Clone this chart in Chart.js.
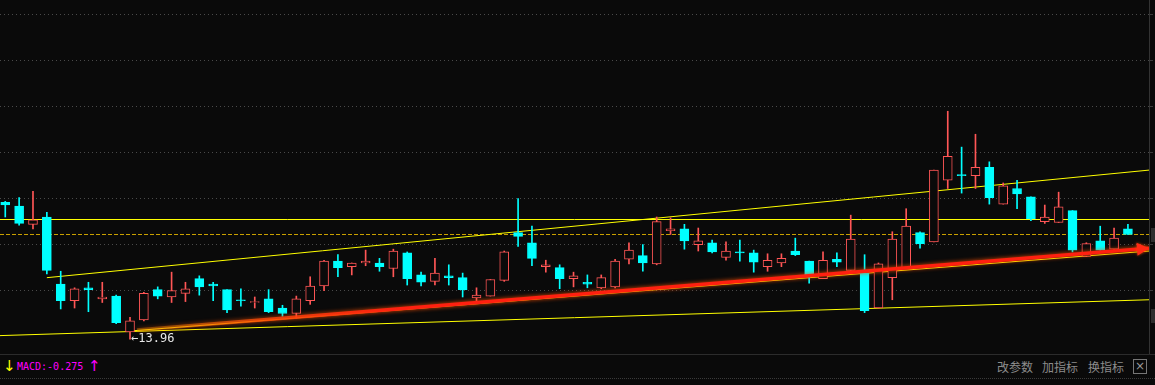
<!DOCTYPE html>
<html>
<head>
<meta charset="utf-8">
<script src="https://cdn.jsdelivr.net/npm/chart.js@4.4.1/dist/chart.umd.min.js"></script>
<style>
  body { margin:0; background:#0a0a0a; width:1155px; height:385px; overflow:hidden; position:relative; }
  #kline { position:absolute; left:0; top:0; }
  #bar { position:absolute; left:0; top:354px; width:1155px; height:30px; border-top:1px solid #2c2c2c; }
  #bar span { position:absolute; top:4px; line-height:16px; white-space:nowrap; }
  .mono { font:10px "DejaVu Sans Mono", monospace; }
  .arr { font:15px "DejaVu Sans", sans-serif; top:3px !important; }
  .cn { font:12px "Noto Sans CJK SC", sans-serif; color:#8c8c8c; }
  #closeBox { position:absolute; left:1133px; top:4px; width:12px; height:13px; border:1px solid #777; color:#999;
              font:12px "DejaVu Sans", sans-serif; line-height:13px; text-align:center; }
  #dots { position:absolute; left:0; top:23px; width:1155px; border-top:1px dotted #3a3a3a; }
  .scroll { position:absolute; left:1151px; width:4px; height:14px; background:#2e2e2e; }
</style>
</head>
<body>
<canvas id="kline" width="1155" height="354"></canvas>
<div class="scroll" style="top:228px"></div>
<div class="scroll" style="top:309px"></div>
<div id="bar">
  <span class="arr" style="left:3px;color:#ffff00">↓</span>
  <span class="mono" style="left:17px;color:#ff00ff">MACD:-0.275</span>
  <span class="arr" style="left:88px;color:#ff00ff">↑</span>
  <span class="cn" style="left:997px">改参数</span>
  <span class="cn" style="left:1042px">加指标</span>
  <span class="cn" style="left:1088px">换指标</span>
  <div id="closeBox">×</div>
  <div id="dots"></div>
</div>
<script>
// daily candles
const open  = [15.45,15.41,15.21,15.29,14.56,14.38,14.52,14.40,14.43,14.04,14.17,14.50,14.42,14.46,14.62,14.56,14.50,14.39,14.36,14.40,
               14.30,14.24,14.38,14.54,14.81,14.75,14.79,14.79,14.73,14.90,14.66,14.59,14.65,14.63,14.41,14.43,14.60,15.12,15.01,14.75,
               14.74,14.62,14.58,14.52,14.53,14.83,14.87,14.78,15.14,15.16,14.99,15.01,14.85,14.91,14.90,14.75,14.79,14.92,14.81,14.62,
               14.83,14.71,14.68,14.30,14.63,14.74,15.12,15.02,15.69,15.75,15.74,15.83,15.43,15.60,15.51,15.24,15.23,15.36,14.86,15.03,
               14.94,15.16];
const high  = [15.46,15.50,15.57,15.34,14.70,14.52,14.58,14.58,14.44,14.20,14.47,14.53,14.69,14.58,14.65,14.58,14.50,14.51,14.42,14.50,
               14.33,14.43,14.64,14.82,14.88,14.79,14.93,14.84,14.94,14.91,14.69,14.84,14.77,14.68,14.52,14.61,14.92,15.49,15.19,14.82,
               14.77,14.69,14.66,14.66,14.83,15.01,14.99,15.29,15.28,15.21,15.17,15.04,15.02,15.04,14.93,14.89,14.89,15.06,14.81,14.91,
               14.90,15.31,14.88,14.79,15.13,15.38,15.13,15.80,16.44,16.05,16.19,15.89,15.66,15.69,15.51,15.42,15.56,15.36,15.01,15.19,
               15.17,15.21];
const low   = [15.29,15.20,15.16,14.67,14.29,14.30,14.26,14.36,14.13,13.96,14.16,14.40,14.36,14.37,14.44,14.38,14.25,14.32,14.30,14.25,
               14.21,14.19,14.34,14.49,14.64,14.66,14.76,14.70,14.64,14.55,14.54,14.55,14.55,14.42,14.38,14.43,14.59,14.97,14.76,14.69,
               14.51,14.53,14.52,14.51,14.52,14.78,14.70,14.77,15.10,14.94,14.92,14.90,14.82,14.81,14.69,14.70,14.75,14.87,14.57,14.62,
               14.75,14.71,14.25,14.30,14.39,14.74,14.95,15.02,15.60,15.55,15.60,15.43,15.43,15.38,15.25,15.22,15.23,14.91,14.86,14.93,
               14.94,15.10];
const close = [15.42,15.22,15.26,14.71,14.38,14.51,14.50,14.42,14.14,14.16,14.46,14.43,14.49,14.51,14.53,14.54,14.28,14.38,14.37,14.26,
               14.24,14.40,14.54,14.81,14.74,14.79,14.81,14.75,14.92,14.62,14.58,14.68,14.63,14.50,14.44,14.61,14.91,15.08,14.84,14.77,
               14.62,14.65,14.56,14.63,14.81,14.93,14.79,15.24,15.16,15.03,15.03,14.91,14.92,14.90,14.80,14.82,14.84,14.88,14.66,14.82,
               14.80,15.05,14.27,14.78,15.05,15.19,15.00,15.80,15.95,15.74,15.83,15.50,15.63,15.54,15.27,15.29,15.40,14.93,15.00,14.93,
               15.06,15.10];

// price levels for the dotted grid and the two horizontal lines
const gridLevels = [14.5, 15.0, 15.5, 16.0, 16.5, 17.0, 17.5];
const refLevel = 15.27;
const lastClose = close[close.length - 1];

// channel lines (x = candle index, y = price)
const upperX = [3, 82.52],     upperY = [14.63, 15.80];
const middleX = [9, 82.52],    middleY = [14.05, 14.92];
const lowerX = [-0.38, 82.52], lowerY = [14.00, 14.39];
const arrowX = [9.5, 82.52],   arrowY = [14.06, 14.95];

const BG = '#0a0a0a', UP = '#ff5656', DOWN = '#00ffff', YELLOW = '#ffff00';

const isUp = close.map((c, i) => c >= open[i]);
const bodies = open.map((o, i) => ({x: i, y: [o, close[i]]}));
const wicks = low.map((l, i) => ({x: i, y: [l, high[i]]}));
const toPoints = (xs, ys) => xs.map((x, i) => ({x: x, y: ys[i]}));

const lineSet = (pts, color, order) => ({
  type: 'line', data: pts, borderColor: color, borderWidth: 1,
  pointRadius: 0, tension: 0, order: order
});

// the hand drawn red line fades in from the left
function arrowColor(c) {
  const chart = c.chart;
  if (!chart.chartArea || !chart.scales.x) return '#ff2010';
  const x0 = chart.scales.x.getPixelForValue(arrowX[0]);
  const g = chart.ctx.createLinearGradient(x0, 0, x0 + 260, 0);
  g.addColorStop(0, 'rgba(255,150,0,0.35)');
  g.addColorStop(0.5, 'rgba(255,70,10,0.8)');
  g.addColorStop(1, '#ff2010');
  return g;
}

const tdxPlugin = {
  id: 'tdx',
  beforeDatasetsDraw(chart) {
    const {ctx, chartArea: a, scales: {y}} = chart;
    ctx.save();
    ctx.lineWidth = 1;
    gridLevels.forEach(v => {
      const py = Math.round(y.getPixelForValue(v)) + 0.5;
      ctx.strokeStyle = '#4a4a4a';
      ctx.setLineDash([1, 3]);
      ctx.beginPath(); ctx.moveTo(a.left, py); ctx.lineTo(a.right, py); ctx.stroke();
      ctx.setLineDash([]);
      ctx.strokeStyle = '#3a3a3a';
      ctx.beginPath(); ctx.moveTo(a.right + 1, py); ctx.lineTo(a.right + 4, py); ctx.stroke();
    });
    // right frame
    ctx.strokeStyle = '#333';
    ctx.beginPath(); ctx.moveTo(a.right + 0.5, 0); ctx.lineTo(a.right + 0.5, chart.height); ctx.stroke();
    // horizontal reference line and last close
    let py = Math.round(y.getPixelForValue(refLevel)) + 0.5;
    ctx.strokeStyle = YELLOW;
    ctx.beginPath(); ctx.moveTo(a.left, py); ctx.lineTo(a.right, py); ctx.stroke();
    py = Math.round(y.getPixelForValue(lastClose)) + 0.5;
    ctx.strokeStyle = '#c9a000';
    ctx.setLineDash([4, 2]);
    ctx.beginPath(); ctx.moveTo(a.left, py); ctx.lineTo(a.right, py); ctx.stroke();
    ctx.restore();
  },
  beforeDatasetDraw(chart, args) {
    if (args.index === 0) {
      chart.ctx.save();
      chart.ctx.shadowColor = 'rgba(255,80,0,0.9)';
      chart.ctx.shadowBlur = 4;
    }
  },
  afterDatasetDraw(chart, args) {
    if (args.index === 0) chart.ctx.restore();
  },
  afterDatasetsDraw(chart) {
    const {ctx, scales: {x, y}} = chart;
    ctx.save();
    // arrow head on the red trend line
    const n = arrowX.length - 1;
    const tx = x.getPixelForValue(arrowX[n]), ty = y.getPixelForValue(arrowY[n]);
    const sx = x.getPixelForValue(arrowX[n - 1]), sy = y.getPixelForValue(arrowY[n - 1]);
    const ang = Math.atan2(ty - sy, tx - sx);
    const len = 12, half = 6.5;
    const bx = tx - len * Math.cos(ang), by = ty - len * Math.sin(ang);
    ctx.fillStyle = '#ff2a14';
    ctx.shadowColor = 'rgba(255,80,0,0.8)';
    ctx.shadowBlur = 3;
    ctx.beginPath();
    ctx.moveTo(tx, ty);
    ctx.lineTo(bx + half * Math.sin(ang), by - half * Math.cos(ang));
    ctx.lineTo(bx - half * Math.sin(ang), by + half * Math.cos(ang));
    ctx.closePath(); ctx.fill();
    ctx.shadowBlur = 0;
    // lowest low marker
    let k = 0;
    low.forEach((v, i) => { if (v < low[k]) k = i; });
    ctx.fillStyle = '#e8e8e8';
    ctx.font = '12px "DejaVu Sans Mono", monospace';
    ctx.textBaseline = 'middle';
    ctx.fillText('←' + low[k].toFixed(2), x.getPixelForValue(k) + 1, y.getPixelForValue(low[k]));
    ctx.restore();
  }
};

new Chart(document.getElementById('kline'), {
  type: 'bar',
  data: {
    datasets: [
      Object.assign(lineSet(toPoints(arrowX, arrowY), arrowColor, 0), {borderWidth: 3.5}),
      {
        data: bodies, order: 1, grouped: false, barThickness: 9, borderWidth: 1, borderSkipped: false,
        backgroundColor: isUp.map(u => u ? BG : DOWN),
        borderColor: isUp.map(u => u ? UP : DOWN)
      },
      {
        data: wicks, order: 2, grouped: false, barThickness: 1, borderWidth: 0,
        backgroundColor: isUp.map(u => u ? UP : DOWN)
      },
      lineSet(toPoints(upperX, upperY), YELLOW, 3),
      lineSet(toPoints(middleX, middleY), YELLOW, 3),
      lineSet(toPoints(lowerX, lowerY), YELLOW, 3)
    ]
  },
  options: {
    responsive: false,
    animation: false,
    devicePixelRatio: 1,
    layout: { padding: { left: 0, right: 6, top: 0, bottom: 0 } },
    plugins: { legend: { display: false }, tooltip: { enabled: false } },
    scales: {
      x: { type: 'linear', min: -0.38, max: 82.52, offset: false, display: false },
      y: { min: 13.80, max: 17.65, display: false }
    }
  },
  plugins: [tdxPlugin]
});
</script>
</body>
</html>
